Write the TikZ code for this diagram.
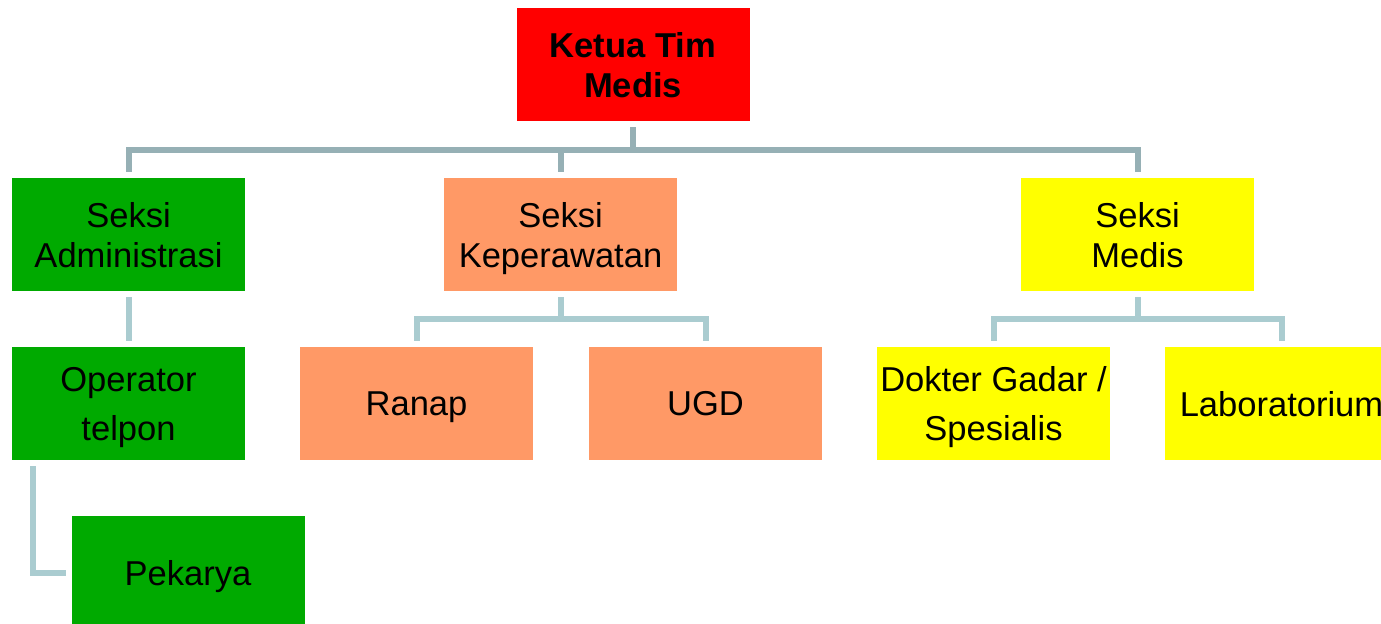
\documentclass[tikz,border=0pt]{standalone}
\usepackage{fontspec}
\setmainfont{Liberation Sans}

\definecolor{merah}{RGB}{255,0,0}
\definecolor{hijau}{RGB}{0,170,0}
\definecolor{salem}{RGB}{255,153,102}
\definecolor{kuning}{RGB}{255,255,0}
\definecolor{garisatas}{RGB}{150,176,181}
\definecolor{garisbawah}{RGB}{170,204,208}

\tikzset{
  kotak/.style={minimum width=174.75pt,minimum height=84.75pt,inner sep=0pt,outer sep=4.5pt,
    text depth=0pt,align=center,font=\fontsize{25.9}{30}\selectfont},
  kotaklebar/.style={kotak,font=\fontsize{25.9}{36.75}\selectfont},
  garis1/.style={draw=garisatas,line width=4.5pt},
  garis2/.style={draw=garisbawah,line width=4.5pt}
}

\begin{document}
\begin{tikzpicture}[x=0.75pt,y=0.75pt,yscale=-1,xscale=1]
		\useasboundingbox (0,0) rectangle (1381,624);
		
		%Shape: top
		\node [kotak,fill=merah,font=\fontsize{25.9}{30}\selectfont\bfseries] (ketua) at (633,65) {Ketua Tim\\Medis};
		%Shape: sections
		\node [kotak,fill=hijau] (admin) at (128.5,234.5) {Seksi\\Administrasi};
		\node [kotak,fill=salem] (rawat) at (560.5,234.5) {Seksi\\Keperawatan};
		\node [kotak,fill=kuning] (medis) at (1137.5,234.5) {Seksi\\Medis};
		%Shape: units
		\node [kotaklebar,fill=hijau] (operator) at (128.5,403.5) {Operator\\telpon};
		\node [kotak,fill=salem] (ranap) at (416.5,403.5) {Ranap};
		\node [kotak,fill=salem] (ugd) at (705.5,403.5) {UGD};
		\node [kotaklebar,fill=kuning] (dokter) at (993.5,403.5) {Dokter Gadar /\\Spesialis};
		\node [kotak,fill=kuning] (lab) at (1281.5,403.5) {Laboratorium};
		\node [kotak,fill=hijau] (pekarya) at (188,572.5) {Pekarya};
		
		%Straight Lines
		\draw [garis1] (ketua.south) -- ++(0,23) -| (admin.north);
		\draw [garis1] (ketua.south) -- ++(0,23) -| (rawat.north);
		\draw [garis1] (ketua.south) -- ++(0,23) -| (medis.north);
		\draw [garis2] (admin.south) -- (operator.north);
		\draw [garis2] (rawat.south) -- ++(0,22) -| (ranap.north);
		\draw [garis2] (rawat.south) -- ++(0,22) -| (ugd.north);
		\draw [garis2] (medis.south) -- ++(0,22) -| (dokter.north);
		\draw [garis2] (medis.south) -- ++(0,22) -| (lab.north);
		\coordinate (tekuk) at (33,0);
		\draw [garis2] (tekuk |- operator.south) |- (pekarya.west);
		
\end{tikzpicture}
\end{document}
